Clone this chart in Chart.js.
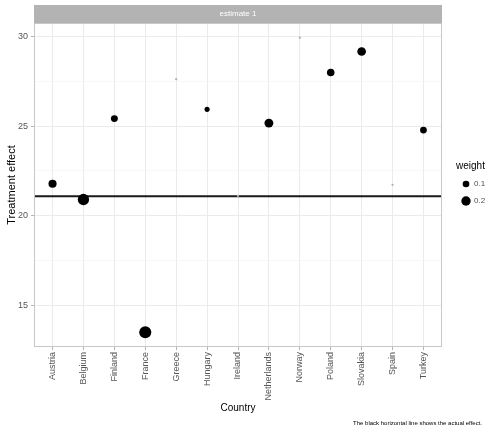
<!DOCTYPE html>
<html lang="en">
<head>
    <meta charset="UTF-8">
    <title>Treatment effect by country</title>
    <script src="https://cdn.jsdelivr.net/npm/chart.js"></script>
    <style>
        body { margin: 0; background: #fff; }
        .chart-container { position: relative; width: 490px; height: 432px; }
    </style>
</head>
<body>
    <div class="chart-container">
        <canvas id="effectChart"></canvas>
    </div>

    <script>
        const countries = ['Austria', 'Belgium', 'Finland', 'France', 'Greece', 'Hungary', 'Ireland',
                           'Netherlands', 'Norway', 'Poland', 'Slovakia', 'Spain', 'Turkey'];
        const effects = [21.78, 20.9, 25.42, 13.48, 27.62, 25.94, 21.1, 25.17, 29.94, 28.0, 29.17, 21.72, 24.78];
        const weights = [0.15, 0.29, 0.11, 0.33, 0.012, 0.06, 0.012, 0.18, 0.012, 0.13, 0.17, 0.012, 0.105];
        const actualEffect = 21.08;
        const yTicks = [15, 20, 25, 30];
        const legendWeights = [0.1, 0.2];
        const panelLabel = 'estimate 1';
        const caption = 'The black horizontal line shows the actual effect.';

        Chart.defaults.font.family = "'Liberation Sans', Arial, sans-serif";

        const radiusFor = w => 10.5 * Math.sqrt(w);

        // ggplot-style limits: data range plus 5% each side
        const lo = Math.min(...effects), hi = Math.max(...effects);
        const pad = (hi - lo) * 0.05;
        const yMin = lo - pad, yMax = hi + pad;

        // major ticks plus minor lines halfway between them
        const gridValues = [];
        yTicks.forEach((t, i) => {
            gridValues.push(t);
            if (i < yTicks.length - 1) gridValues.push((t + yTicks[i + 1]) / 2);
        });
        const isMajor = v => yTicks.includes(v);

        const facetDecor = {
            id: 'facetDecor',
            afterDraw(chart) {
                const { ctx, chartArea: a } = chart;
                ctx.save();

                // panel border
                ctx.strokeStyle = '#c8c8c8';
                ctx.lineWidth = 1;
                ctx.strokeRect(a.left + 0.5, a.top + 0.5, a.right - a.left - 1, a.bottom - a.top - 1);

                // facet strip
                ctx.fillStyle = '#b3b3b3';
                ctx.fillRect(a.left, 5, a.right - a.left, a.top - 5);
                ctx.fillStyle = '#fff';
                ctx.font = "8px 'Liberation Sans', Arial, sans-serif";
                ctx.textAlign = 'center';
                ctx.textBaseline = 'middle';
                ctx.fillText(panelLabel, (a.left + a.right) / 2, (5 + a.top) / 2);

                // size legend
                ctx.textAlign = 'left';
                ctx.fillStyle = '#000';
                ctx.font = "10px 'Liberation Sans', Arial, sans-serif";
                ctx.fillText('weight', a.right + 14, 166);
                legendWeights.forEach((w, i) => {
                    const y = 184 + i * 17;
                    ctx.fillStyle = '#000';
                    ctx.beginPath();
                    ctx.arc(a.right + 24, y, radiusFor(w), 0, Math.PI * 2);
                    ctx.fill();
                    ctx.fillStyle = '#4d4d4d';
                    ctx.font = "8px 'Liberation Sans', Arial, sans-serif";
                    ctx.fillText(String(w), a.right + 32, y);
                });

                // caption
                ctx.textAlign = 'right';
                ctx.fillStyle = '#000';
                ctx.font = "6px 'Liberation Sans', Arial, sans-serif";
                ctx.fillText(caption, 482, 423);

                ctx.restore();
            }
        };

        const ctx = document.getElementById('effectChart').getContext('2d');
        new Chart(ctx, {
            type: 'scatter',
            data: {
                datasets: [
                    {
                        label: 'estimate 1',
                        data: countries.map((c, i) => ({ x: i + 1, y: effects[i] })),
                        pointRadius: weights.map(radiusFor),
                        pointHoverRadius: weights.map(radiusFor),
                        pointBackgroundColor: weights.map(w => radiusFor(w) < 1.5 ? '#b0b0b0' : '#000'),
                        pointBorderWidth: 0,
                        order: 0
                    },
                    {
                        label: 'actual effect',
                        data: [{ x: 0.4, y: actualEffect }, { x: 13.6, y: actualEffect }],
                        showLine: true,
                        borderColor: '#1a1a1a',
                        borderWidth: 2,
                        pointRadius: 0,
                        order: 1
                    }
                ]
            },
            options: {
                responsive: true,
                maintainAspectRatio: false,
                animation: false,
                layout: { padding: { top: 23, right: 48, bottom: 0, left: 0 } },
                plugins: {
                    legend: { display: false },
                    tooltip: { enabled: false }
                },
                scales: {
                    x: {
                        type: 'linear',
                        min: 0.4,
                        max: 13.6,
                        afterBuildTicks: axis => { axis.ticks = countries.map((c, i) => ({ value: i + 1 })); },
                        afterFit: axis => { axis.height = 85; },
                        ticks: {
                            callback: v => countries[v - 1],
                            autoSkip: false,
                            minRotation: 90,
                            maxRotation: 90,
                            padding: 2,
                            color: '#555',
                            font: { size: 9 }
                        },
                        grid: { color: '#ebebeb', tickColor: '#b3b3b3', tickLength: 3 },
                        border: { display: false },
                        title: {
                            display: true,
                            text: 'Country',
                            color: '#000',
                            font: { size: 10 },
                            padding: { top: 0, bottom: 18 }
                        }
                    },
                    y: {
                        min: yMin,
                        max: yMax,
                        afterBuildTicks: axis => { axis.ticks = gridValues.map(v => ({ value: v })); },
                        afterFit: axis => { axis.width = 34; },
                        ticks: {
                            callback: v => isMajor(v) ? v : '',
                            padding: 3,
                            color: '#555',
                            font: { size: 9 }
                        },
                        grid: {
                            color: c => isMajor(c.tick.value) ? '#ebebeb' : '#f4f4f4',
                            lineWidth: c => isMajor(c.tick.value) ? 1 : 0.6,
                            tickColor: c => isMajor(c.tick.value) ? '#b3b3b3' : 'rgba(0,0,0,0)',
                            tickLength: 3
                        },
                        border: { display: false },
                        title: {
                            display: true,
                            text: 'Treatment effect',
                            color: '#000',
                            font: { size: 11 },
                            padding: { top: 5, bottom: 0 }
                        }
                    }
                }
            },
            plugins: [facetDecor]
        });
    </script>
</body>
</html>
